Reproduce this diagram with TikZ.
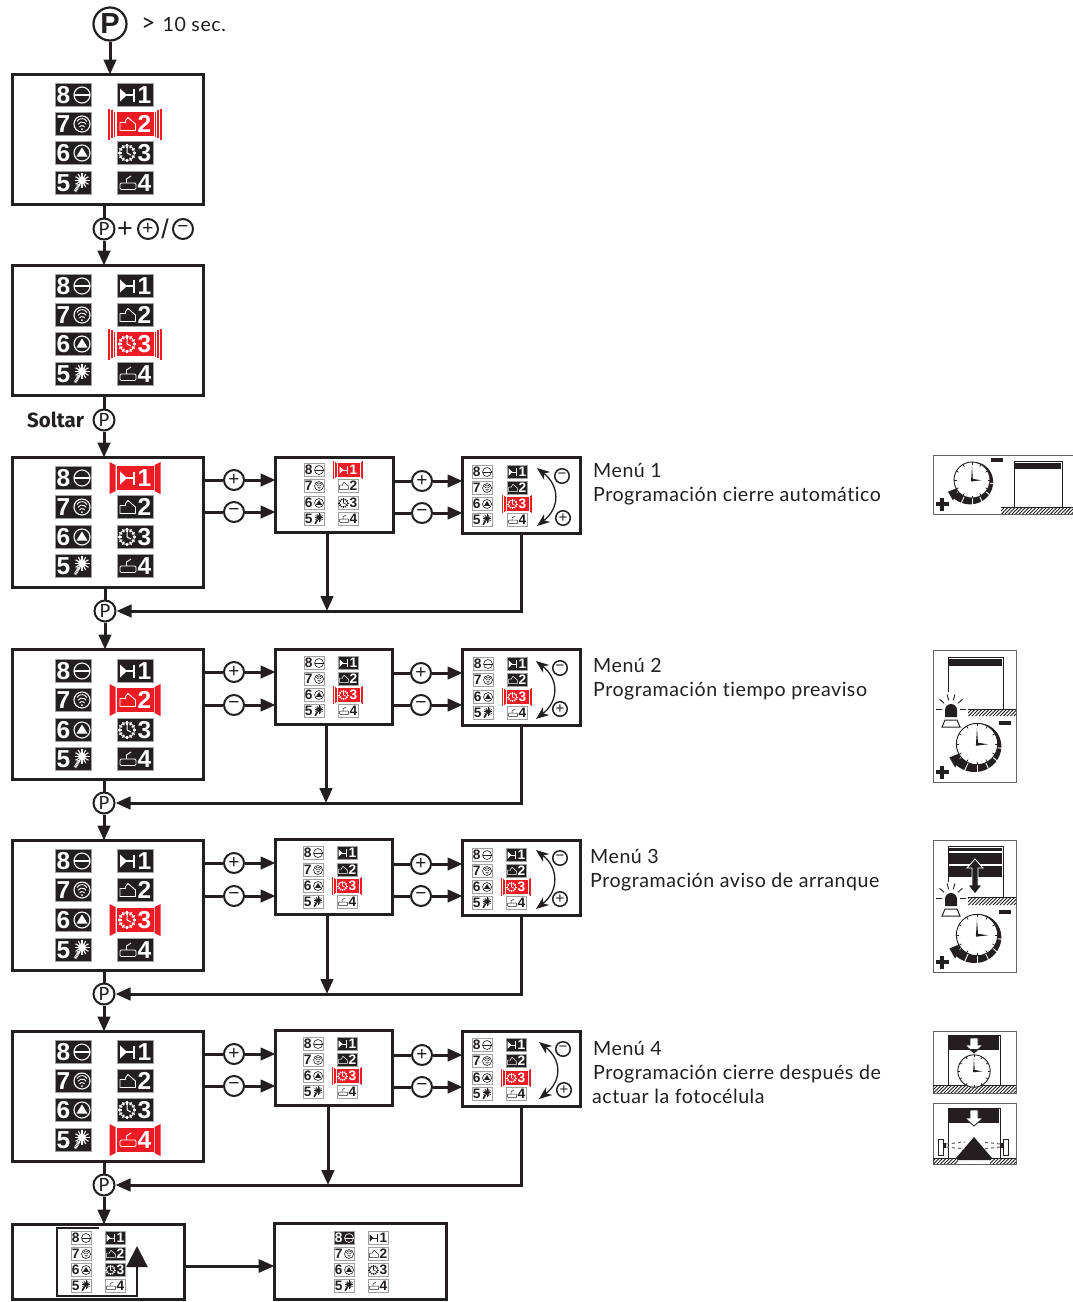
\documentclass[tikz,border=0pt]{standalone}
\usepackage{fontspec}
\setmainfont{Lato}
\newfontfamily\cellfont{Liberation Sans}[Scale=1]
\newfontfamily\narrowfont{Fira Sans}
\usetikzlibrary{arrows.meta,calc}
\definecolor{ink}{HTML}{231F20}
\definecolor{ledred}{HTML}{ED1C24}
\definecolor{ledgrey}{HTML}{A0A0A0}
\tikzset{
  pbx/.style={draw=ink,line width=3pt,inner sep=0pt,outer sep=0pt},
  ln/.style={draw=ink,line width=3pt},
  arr/.style={draw=ink,line width=3pt,-{Triangle[length=15pt,width=12.5pt]}},
  bigarr/.style={draw=ink,line width=3pt,-{Triangle[length=16pt,width=13pt]}},
  rnd/.style={circle,draw=ink,line width=2pt,fill=white,inner sep=0pt,minimum size=20pt,text=ink,font=\cellfont\fontsize{19}{19}\selectfont},
  pc/.style={circle,draw=ink,line width=2pt,fill=white,inner sep=0pt,minimum size=21pt,text=ink,font=\narrowfont\fontsize{19}{19}\selectfont},
  small/.style={circle,draw=ink,line width=1.5pt,fill=white,inner sep=0pt,minimum size=14.5pt,text=ink,font=\cellfont\fontsize{15}{15}\selectfont},
  lab/.style={anchor=base west,inner sep=0pt,text=ink,font=\fontsize{19.6}{19.6}\selectfont\addfontfeature{LetterSpace=2.7,Ligatures=NoCommon}},
  thin ink/.style={draw=ink,line width=.8pt},
}
% one indicator cell
\newcommand\cell[6]{%
 \begin{scope}[shift={(#2,#3)},x=#4pt,y=#4pt,line width=#4*1pt]
  \if w#6\relax\colorlet{cfg}{ink}\colorlet{cbg}{white}\colorlet{cbd}{ledgrey}\fi
  \if b#6\relax\colorlet{cfg}{white}\colorlet{cbg}{ink}\colorlet{cbd}{ledgrey}\fi
  \if r#6\relax\colorlet{cfg}{white}\colorlet{cbg}{ledred}\colorlet{cbd}{ledred}\fi
  \if R#6\relax\colorlet{cfg}{white}\colorlet{cbg}{ledred}\colorlet{cbd}{ledred}\fi
  \if r#6\relax
   \foreach \u in {-1,1}{
    \draw[ledred,line width=#4*1.3pt] (\u*20.5,-12.5)--(\u*20.5,12.5);
    \draw[ledred,line width=#4*1.3pt] (\u*23,-14)--(\u*23,14);
    \draw[ledred,line width=#4*1.3pt] (\u*26,-15.5)--(\u*26,15.5);}
  \fi
  \if R#6\relax
   \foreach \u in {-1,1}{\fill[ledred] (\u*19.5,-13)--(\u*19.5,13)--(\u*25.5,16)--(\u*25.5,-16)--cycle;}
  \fi
  \fill[cbg] (-18,-11.5) rectangle (18,11.5);
  \draw[cbd,line width=#4*.8pt] (-18,-11.5) rectangle (18,11.5);
  \pgfmathsetmacro\cfs{24.5*#4}
  \ifnum#5>4\relax\def\nx{-9.5}\else\def\nx{9.5}\fi
  \node[inner sep=0pt,text=cfg] (#1) at (\nx,0) {\cellfont\bfseries\fontsize{\cfs}{\cfs}\selectfont #5};
  \begin{scope}[draw=cfg,fill=cfg]
  \ifcase#5\relax\or
   % 1
   \fill (-15,6.5)--(-15,-6.5)--(-8,0)--cycle;
   \draw[line width=#4*1.6pt] (-10,0)--(-1,0);
   \draw[line width=#4*2pt] (-1,-6.5)--(-1,6.5);
  \or
   % 2
   \draw[line width=#4*.9pt,line join=round] (-9.5,1.5)--(-15,1.5)--(-15,-6.5)--(0.5,-6.5)--(0.5,0)--(-7,6.5)--(-9.5,3.5)--cycle;
  \or
   % 3
   \draw[line width=#4*.9pt] (-8,0) circle (7.5);
   \foreach \a in {0,30,...,330}{\draw[line width=#4*1.3pt] ($(-8,0)+(\a:5.5)$)--($(-8,0)+(\a:9)$);}
   \draw[line width=#4*1pt] (-8,5)--(-8,0)--(-4,-2);
  \or
   % 4
   \draw[line width=#4*.9pt,rounded corners=#4*1.2pt] (-15,-6.5) rectangle (1,0);
   \draw[line width=#4*.9pt] (-8.5,0)--(-8.5,4)--(-4,7);
  \or
   % 5
   \fill (9,2.5) circle (4);
   \foreach \a in {0,30,...,330}{\draw[line width=#4*1.1pt] ($(9,2.5)+(\a:3)$)--($(9,2.5)+(\a:7.5)$);}
   \draw[line width=#4*3pt,dash pattern=on #4*1pt off #4*.6pt] (6,-1.5)--(2,-8.5);
  \or
   % 6
   \draw[line width=#4*1.1pt] (9,0) circle (8);
   \fill (9,5.5)--(3.5,-3.5)--(14.5,-3.5)--cycle;
  \or
   % 7
   \draw[line width=#4*1.1pt] (9,0) circle (8);
   \draw[line width=#4*.9pt] (4,2.5) arc (150:30:5.8);
   \draw[line width=#4*.9pt] (5,-.3) arc (150:30:4.6);
   \draw[line width=#4*.9pt] (6.5,-3) arc (150:30:2.9);
   \fill (9,-5) circle (1);
  \or
   % 8
   \draw[line width=#4*1.1pt] (9,0) circle (8);
   \draw[line width=#4*1.1pt] (1,0)--(17,0);
  \fi
  \end{scope}
 \end{scope}}
% eight cells
\newcommand\panelcells[8]{%
 \cell{\pn c8}{\plx}{\pya}{\psc}{8}{#1}\cell{\pn c7}{\plx}{\pyb}{\psc}{7}{#2}%
 \cell{\pn c6}{\plx}{\pyc}{\psc}{6}{#3}\cell{\pn c5}{\plx}{\pyd}{\psc}{5}{#4}%
 \cell{\pn c1}{\prx}{\pya}{\psc}{1}{#5}\cell{\pn c2}{\prx}{\pyb}{\psc}{2}{#6}%
 \cell{\pn c3}{\prx}{\pyc}{\psc}{3}{#7}\cell{\pn c4}{\prx}{\pyd}{\psc}{4}{#8}}
\newcommand\panel[9]{\def\pn{#1}\def\plx{#2}\def\prx{#3}\def\pya{#4}\def\pyb{#5}\def\pyc{#6}\def\pyd{#7}\def\psc{#8}\panelcells#9}
\newcommand\pbox[5]{\node[pbx,minimum width={(#4-#2-3)*1pt},minimum height={(#5-#3-3)*1pt}] (#1) at ({(#2+#4)/2},{(#3+#5)/2}) {};}
% connectors of a menu row
\newcommand\menurow[7]{%
 \node[rnd] (cp1#1) at (234,#2) {+};
 \node[rnd] (cm1#1) at (234,#3) {−};
 \node[rnd] (cp2#1) at (#4,#5) {+};
 \node[rnd] (cm2#1) at (#4,#6) {−};
 \draw[ln] (m#1.east |- cp1#1) -- (cp1#1);
 \draw[arr] (cp1#1) -- (a#1.west |- cp1#1);
 \draw[ln] (m#1.east |- cm1#1) -- (cm1#1);
 \draw[arr] (cm1#1) -- (a#1.west |- cm1#1);
 \draw[ln] (a#1.east |- cp2#1) -- (cp2#1);
 \draw[arr] (cp2#1) -- (z#1.west |- cp2#1);
 \draw[ln] (a#1.east |- cm2#1) -- (cm2#1);
 \draw[arr] (cm2#1) -- (z#1.west |- cm2#1);
 \coordinate (ad#1) at (#7,0);
 \draw[arr] (ad#1 |- a#1.south) -- (ad#1 |- q#1);
 \draw[arr] (z#1.south) -- (z#1.south |- q#1) -- (q#1);
 \draw[ln] (q#1 |- m#1.south) -- (q#1);}
\newcommand\rowcurve[8]{%
 \coordinate (cvs#1) at (#2,#3);\coordinate (cve#1) at (#2,#4);
 \draw[draw=ink,line width=1.3pt,{Stealth[length=13pt,width=10pt]}-{Stealth[length=13pt,width=10pt]}]
  (cvs#1) .. controls (#2+23,#3+18) and (#2+23,#4-18) .. (cve#1);
 \node[small] (sm#1) at (#5,#6) {−};
 \node[small] (sp#1) at (#7,#8) {+};}
\newcommand\hatch[4]{%
 \begin{scope}
  \clip (#1,#2) rectangle (#3,#4);
  \pgfmathsetmacro\hst{#1-10}\pgfmathsetmacro\hsn{#1-6.5}
  \foreach \i in {\hst,\hsn,...,#3}{\draw[ink,line width=.8pt] (\i,#4)--++(10,-10);}
 \end{scope}}
\newcommand\clockf[3]{%
 \begin{scope}[shift={(#1,#2)},x=#3pt,y=#3pt]
  \fill[white] (0,0) circle (18);
  \draw[ink,line width=.9pt] (0,0) circle (18);
  \foreach \a in {0,30,...,330}{\draw[ink,line width=.7pt] (\a:15.5)--(\a:18);}
  \fill[ink] (-.9,0)--(0,14)--(.9,0)--(.9,-1.3)--(-.9,-1.3)--cycle;
  \fill[ink] (0,1.3)--(9.5,-.3)--(0,-1.3)--cycle;
 \end{scope}}
\newcommand\clockb[3]{%
 \begin{scope}[shift={(#1,#2)},x=#3pt,y=#3pt]
  \fill[ink] plot[smooth,domain=85:-139,samples=40] ({(18+(85-\x)/224*8)*cos(\x)},{(18+(85-\x)/224*8)*sin(\x)})
    -- (-139:18) arc (-139:85:18) -- cycle;
  \fill[ink] (-24,-11.7)--(-12.5,-7)--(-19,-20.5)--cycle;
  \foreach \a in {-10,-40,-65,-90,-115}{\draw[white,line width=.9pt] (\a:18)--(\a:28);}
 \end{scope}
 \clockf{#1}{#2}{#3}}
\newcommand\plusminus[4]{%
 \fill[ink] (#1-6.5,#2-1.8) rectangle (#1+6.5,#2+1.8);
 \fill[ink] (#1-1.8,#2-6.5) rectangle (#1+1.8,#2+6.5);
 \fill[ink] (#3-6,#4-1.7) rectangle (#3+6,#4+1.7);}
\newcommand\beacon[2]{%
 \begin{scope}[shift={(#1,#2)},x=1pt,y=1pt]
  \foreach \a in {0,40,75,105,140,180}{\draw[ink,line width=.9pt] (\a:9)--(\a:15);}
  \fill[ink] (-6,-8)--(6,-8)--(6,-1) arc (0:180:6)--cycle;
  \draw[ink,line width=1pt,fill=white] (-6,-11)--(6,-11)--(9,-18)--(-9,-18)--cycle;
 \end{scope}}
\begin{document}
\begin{tikzpicture}[x=1pt,y=-1pt]
\useasboundingbox (0,0) rectangle (1073,1302);
\fill[white] (0,0) rectangle (1073,1302);
% main boxes
\pbox{m0}{11}{73}{205}{206}
\pbox{m00}{11}{264}{205}{397}
\pbox{m1}{11}{456}{205}{589}
\pbox{m2}{11}{648}{205}{781}
\pbox{m3}{11}{839}{205}{972}
\pbox{m4}{11}{1030}{205}{1163}
\pbox{a1}{274}{456}{395}{534}
\pbox{z1}{461}{456}{582}{535}
\pbox{a2}{274}{648}{394}{726}
\pbox{z2}{461}{648}{582}{727}
\pbox{a3}{274}{838}{394}{916}
\pbox{z3}{461}{839}{582}{917}
\pbox{a4}{274}{1029}{394}{1107}
\pbox{z4}{461}{1030}{582}{1108}
\pbox{b7}{11}{1223}{186}{1301}
\pbox{b8}{273}{1222}{448}{1301}
% cells
\panel{m0}{73}{135}{95}{124}{153}{183}{1}{bbbbbrbb}
\panel{mm}{73}{135}{286}{315}{344}{374}{1}{bbbbbbrb}
\panel{m1}{73}{135}{478}{507}{537}{566}{1}{bbbbRbbb}
\panel{m2}{73}{135}{671}{700}{730}{759}{1}{bbbbbRbb}
\panel{m3}{73}{135}{861}{890}{920}{950}{1}{bbbbbbRb}
\panel{m4}{73}{135}{1052}{1081}{1110}{1140}{1}{bbbbbbbR}
\panel{a1}{314}{348}{470}{486}{503}{519}{.56}{wwwwrwww}
\panel{z1}{482}{517}{472}{488}{504}{520}{.56}{wwwwbbrw}
\panel{a2}{314}{348}{663}{679}{695}{711}{.56}{wwwwbbrw}
\panel{z2}{483}{517}{664}{680}{697}{713}{.56}{wwwwbbrw}
\panel{a3}{313}{347}{853}{870}{886}{902}{.56}{wwwwbbrw}
\panel{z3}{482}{516}{855}{871}{887}{903}{.56}{wwwwbbrw}
\panel{a4}{313}{347}{1044}{1060}{1076}{1092}{.56}{wwwwbbrw}
\panel{z4}{482}{516}{1045}{1061}{1078}{1094}{.56}{wwwwbbrw}
\panel{b7}{81}{115}{1238}{1254}{1270}{1286}{.56}{wwwwbbbw}
\panel{b8}{344}{378}{1238}{1254}{1270}{1286}{.56}{bwwwwwww}
% P keys
\node[circle,draw=ink,line width=2.2pt,fill=white,inner sep=0pt,minimum size=33pt,text=ink,font=\cellfont\bfseries\fontsize{29}{29}\selectfont] (p0) at (110,24) {P};
\node[pc] (p1) at (104,229) {P};
\node[pc] (p2) at (104,420) {P};
\node[pc] (q1) at (105,611) {P};
\node[pc] (q2) at (104,803) {P};
\node[pc] (q3) at (104,994) {P};
\node[pc] (q4) at (104,1185) {P};
\node[rnd] (kp) at (148,229) {+};
\node[rnd] (km) at (183,229) {−};
\node[inner sep=0pt,text=ink,font=\cellfont\fontsize{27}{27}\selectfont] (kplus) at (125,229.5) {+};
\node[inner sep=0pt,text=ink,font=\cellfont\fontsize{27}{27}\selectfont] (kslash) at (165,229) {/};
\node[lab] (t10) at (141,31) {\fontsize{25}{25}\selectfont >\hspace{7pt}\fontsize{19.6}{19.6}\selectfont 10 sec.};
\node[anchor=base west,inner sep=0pt,text=ink,font=\narrowfont\bfseries\fontsize{20.5}{20.5}\selectfont] (sol) at (27,427) {Soltar};
% vertical connectors
\draw[arr] (p0) -- (p0 |- m0.north);
\draw[ln] (p1 |- m0.south) -- (p1);
\draw[arr] (p1) -- (p1 |- m00.north);
\draw[ln] (p2 |- m00.south) -- (p2);
\draw[arr] (p2) -- (p2 |- m1.north);
\draw[arr] (q1) -- (q1 |- m2.north);
\draw[arr] (q2) -- (q2 |- m3.north);
\draw[arr] (q3) -- (q3 |- m4.north);
\draw[arr] (q4) -- (q4 |- b7.north);
% rows
\menurow{1}{480}{512}{422}{481}{513}{327}
\menurow{2}{672}{705}{421}{673}{705}{326}
\menurow{3}{863}{896}{421}{864}{896}{327}
\menurow{4}{1054}{1086}{422}{1055}{1087}{328}
\rowcurve{1}{537}{468}{526}{562}{476}{563}{518}
\rowcurve{2}{536}{661}{719}{560}{668}{560}{709}
\rowcurve{3}{536}{850}{909}{560}{858}{560}{899}
\rowcurve{4}{539}{1042}{1099}{563}{1049}{564}{1090}
% last boxes
\draw[bigarr] (b7.east |- 0,1266) -- (b8.west |- 0,1266);
\coordinate (lpa) at (99,1228);\coordinate (lpb) at (57,1228);\coordinate (lpc) at (57,1296);\coordinate (lpd) at (137,1296);\coordinate (lpe) at (137,1246);
\draw[draw=ink,line width=2.4pt,-{Triangle[length=21pt,width=21pt]}] (lpa) -- (lpb) -- (lpc) -- (lpd) -- (lpe);
% labels
\node[lab] (t11) at (593,477) {Menú 1};
\node[lab] (t12) at (593,501) {Programación cierre automático};
\node[lab] (t21) at (593,672) {Menú 2};
\node[lab] (t22) at (593,696) {Programación tiempo preaviso};
\node[lab] (t31) at (590,863) {Menú 3};
\node[lab] (t32) at (590,887) {Programación aviso de arranque};
\node[lab] (t41) at (593,1055) {Menú 4};
\node[lab] (t42) at (593,1079) {Programación cierre después de};
\node[lab] (t43) at (592,1103) {actuar la fotocélula};
% ---------- pictogram menu 1
\draw[draw=ink!70,line width=1pt] (1073,455)--(933,455)--(933,514.5)--(1073,514.5);
\clockb{972}{480}{1}
\plusminus{942}{504}{997}{460}
\draw[ink,line width=.9pt] (1014,507)--(1014,461)--(1062,461)--(1062,507);
\fill[ink] (1015,463) rectangle (1061,469);
\hatch{1001}{507}{1073}{514}
\draw[ink,line width=.9pt] (1001,507)--(1073,507);
% ---------- pictogram menu 2
\draw[draw=ink!70,line width=1pt] (933,650) rectangle (1016,782);
\draw[ink,line width=.9pt] (948,692)--(948,657)--(1003,657)--(1003,709);
\fill[ink] (949,659) rectangle (1002,666);
\draw[ink,line width=.9pt] (968,709)--(1016,709);
\hatch{968}{709}{1016}{716}
\beacon{951}{709}
\clockb{977}{744}{1.15}
\plusminus{942}{772}{1005}{723}
% ---------- pictogram menu 3
\draw[draw=ink!70,line width=1pt] (933,840) rectangle (1016,972);
\draw[ink,line width=.9pt] (948,882)--(948,846)--(1003,846)--(1003,897);
\fill[ink] (949,848) rectangle (1002,851);
\fill[ink] (949,853) rectangle (1002,864);
\fill[ink] (949,866) rectangle (1002,877);
\draw[draw=white,fill=ink,line width=.8pt] (975,859)--(983,868)--(978,868)--(978,885)--(982,885)--(975,894)--(968,885)--(972,885)--(972,868)--(967,868)--cycle;
\draw[ink,line width=.9pt] (968,897)--(1016,897);
\hatch{968}{897}{1016}{905}
\beacon{951}{898}
\clockb{977}{935}{1.15}
\plusminus{942}{962}{1005}{912}
% ---------- pictogram menu 4
\draw[draw=ink!70,line width=1pt] (933,1031) rectangle (1016,1093);
\draw[ink,line width=.9pt] (948,1085)--(948,1035)--(1000,1035)--(1000,1085);
\fill[ink] (949,1036) rectangle (999,1050);
\draw[ink,line width=.9pt] (933,1085)--(1016,1085);
\hatch{933}{1085}{1016}{1093}
\draw[draw=ink,fill=white,line width=.8pt] (970,1038)--(978,1038)--(978,1045)--(983,1045)--(974,1053)--(965,1045)--(970,1045)--cycle;
\fill[ink] (969,1049)--(979,1049)--(974,1053)--cycle;
\clockf{974}{1071}{.9}
\draw[draw=ink!70,line width=1pt] (933,1103) rectangle (1016,1164);
\draw[ink,line width=.9pt] (948,1158)--(948,1108)--(1000,1108)--(1000,1158);
\fill[ink] (949,1109) rectangle (999,1123);
\draw[ink,line width=.9pt] (933,1158)--(1016,1158);
\hatch{933}{1158}{1016}{1164}
\draw[draw=ink,fill=white,line width=.8pt] (970,1110)--(978,1110)--(978,1118)--(983,1118)--(974,1126)--(965,1118)--(970,1118)--cycle;
\fill[white] (958,1155) rectangle (990,1164);
\fill[ink] (974,1137)--(992,1158)--(990,1160)--(958,1160)--(956,1158)--cycle;
\draw[ink,line width=1pt,fill=white] (938,1139) rectangle (943,1155);
\draw[ink,line width=1pt,fill=white] (1003,1139) rectangle (1008,1155);
\fill[ink] (943,1143) rectangle (946,1148);\fill[ink] (1000,1143) rectangle (1003,1148);
\draw[ink!70,line width=1pt,dashed] (946,1144)--(965,1142);
\draw[ink!70,line width=1pt,dashed] (946,1147)--(965,1149);
\draw[ink!70,line width=1pt,dashed] (1000,1144)--(983,1142);
\draw[ink!70,line width=1pt,dashed] (1000,1147)--(983,1149);
\end{tikzpicture}
\end{document}
